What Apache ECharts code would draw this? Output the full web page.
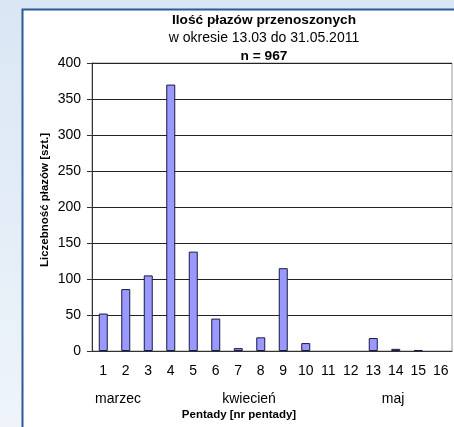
<!DOCTYPE html>
<html>
<head>
<meta charset="utf-8">
<script src="https://cdn.jsdelivr.net/npm/echarts@6/dist/echarts.min.js"></script>
<style>
html, body { margin: 0; padding: 0; }
#chart { width: 454px; height: 427px; }
</style>
</head>
<body>
<div id="chart"></div>
<script>
var pentady = ['1', '2', '3', '4', '5', '6', '7', '8', '9', '10', '11', '12', '13', '14', '15', '16'];
var liczebnosc = [52, 86, 105, 370, 138, 45, 4, 19, 115, 11, 0, 0, 18, 3, 1, 0];
var miesiace = ['marzec', 'kwiecień', 'maj'];
var miesiaceX = [118, 249, 393];

var font = '"Liberation Sans", Arial, sans-serif';

var chart = echarts.init(document.getElementById('chart'));

var graphics = [{
	type : 'rect',
	z : -10,
	shape : { x : 22.5, y : 9.5, width : 500, height : 500 },
	style : { fill : '#fff', stroke : '#2a5a9a', lineWidth : 2 }
}, {
	type : 'text',
	x : 45,
	y : 200,
	rotation : Math.PI / 2,
	style : {
		text : 'Liczebność płazów [szt.]',
		font : 'bold 11.5px ' + font,
		fill : '#000',
		align : 'center',
		verticalAlign : 'middle'
	}
}, {
	type : 'text',
	x : 239,
	y : 415,
	style : {
		text : 'Pentady [nr pentady]',
		font : 'bold 11.5px ' + font,
		fill : '#000',
		align : 'center',
		verticalAlign : 'middle'
	}
}];
// nazwy miesiecy pod osia
for (var i = 0; i < miesiace.length; i++) {
	graphics.push({
		type : 'text',
		x : miesiaceX[i],
		y : 399,
		style : {
			text : miesiace[i],
			font : '14px ' + font,
			fill : '#000',
			align : 'center',
			verticalAlign : 'middle'
		}
	});
}

var option = {
	animation : false,
	backgroundColor : new echarts.graphic.LinearGradient(0, 0, 0, 1, [
		{ offset : 0, color : '#d9e6f3' },
		{ offset : 1, color : '#eef4fa' }
	]),
	textStyle : { fontFamily : font },
	title : [{
		text : 'Ilość płazów przenoszonych',
		left : 264,
		top : 13,
		padding : 0,
		textAlign : 'center',
		textStyle : { fontSize : 13.7, fontWeight : 'bold', color : '#000', fontFamily : font }
	}, {
		text : 'w okresie 13.03 do 31.05.2011',
		left : 264,
		top : 31,
		padding : 0,
		textAlign : 'center',
		textStyle : { fontSize : 14, fontWeight : 'normal', color : '#000', fontFamily : font }
	}, {
		text : 'n = 967',
		left : 264,
		top : 49,
		padding : 0,
		textAlign : 'center',
		textStyle : { fontSize : 13.7, fontWeight : 'bold', color : '#000', fontFamily : font }
	}],
	grid : {
		left : 92,
		right : 2,
		top : 63,
		bottom : 76,
		show : true,
		borderColor : '#999',
		borderWidth : 1,
		backgroundColor : '#fff'
	},
	xAxis : {
		type : 'category',
		data : pentady,
		axisLine : { lineStyle : { color : '#333' } },
		axisTick : { show : false },
		axisLabel : { fontSize : 14, color : '#000', margin : 13, interval : 0 }
	},
	yAxis : {
		type : 'value',
		min : 0,
		max : 400,
		interval : 50,
		axisLine : { show : true, lineStyle : { color : '#333' } },
		axisTick : { show : true, inside : false, length : 5, lineStyle : { color : '#333' } },
		axisLabel : { fontSize : 14, color : '#000', margin : 11 },
		splitLine : { lineStyle : { color : '#222', width : 1 } }
	},
	series : [{
		type : 'bar',
		// puste pentady bez slupka
		data : liczebnosc.map(function(v) { return v === 0 ? '-' : v; }),
		barWidth : 9,
		itemStyle : { color : '#9999ff', borderColor : '#1a1a40', borderWidth : 1 }
	}],
	graphic : graphics
};
chart.setOption(option);
</script>
</body>
</html>
